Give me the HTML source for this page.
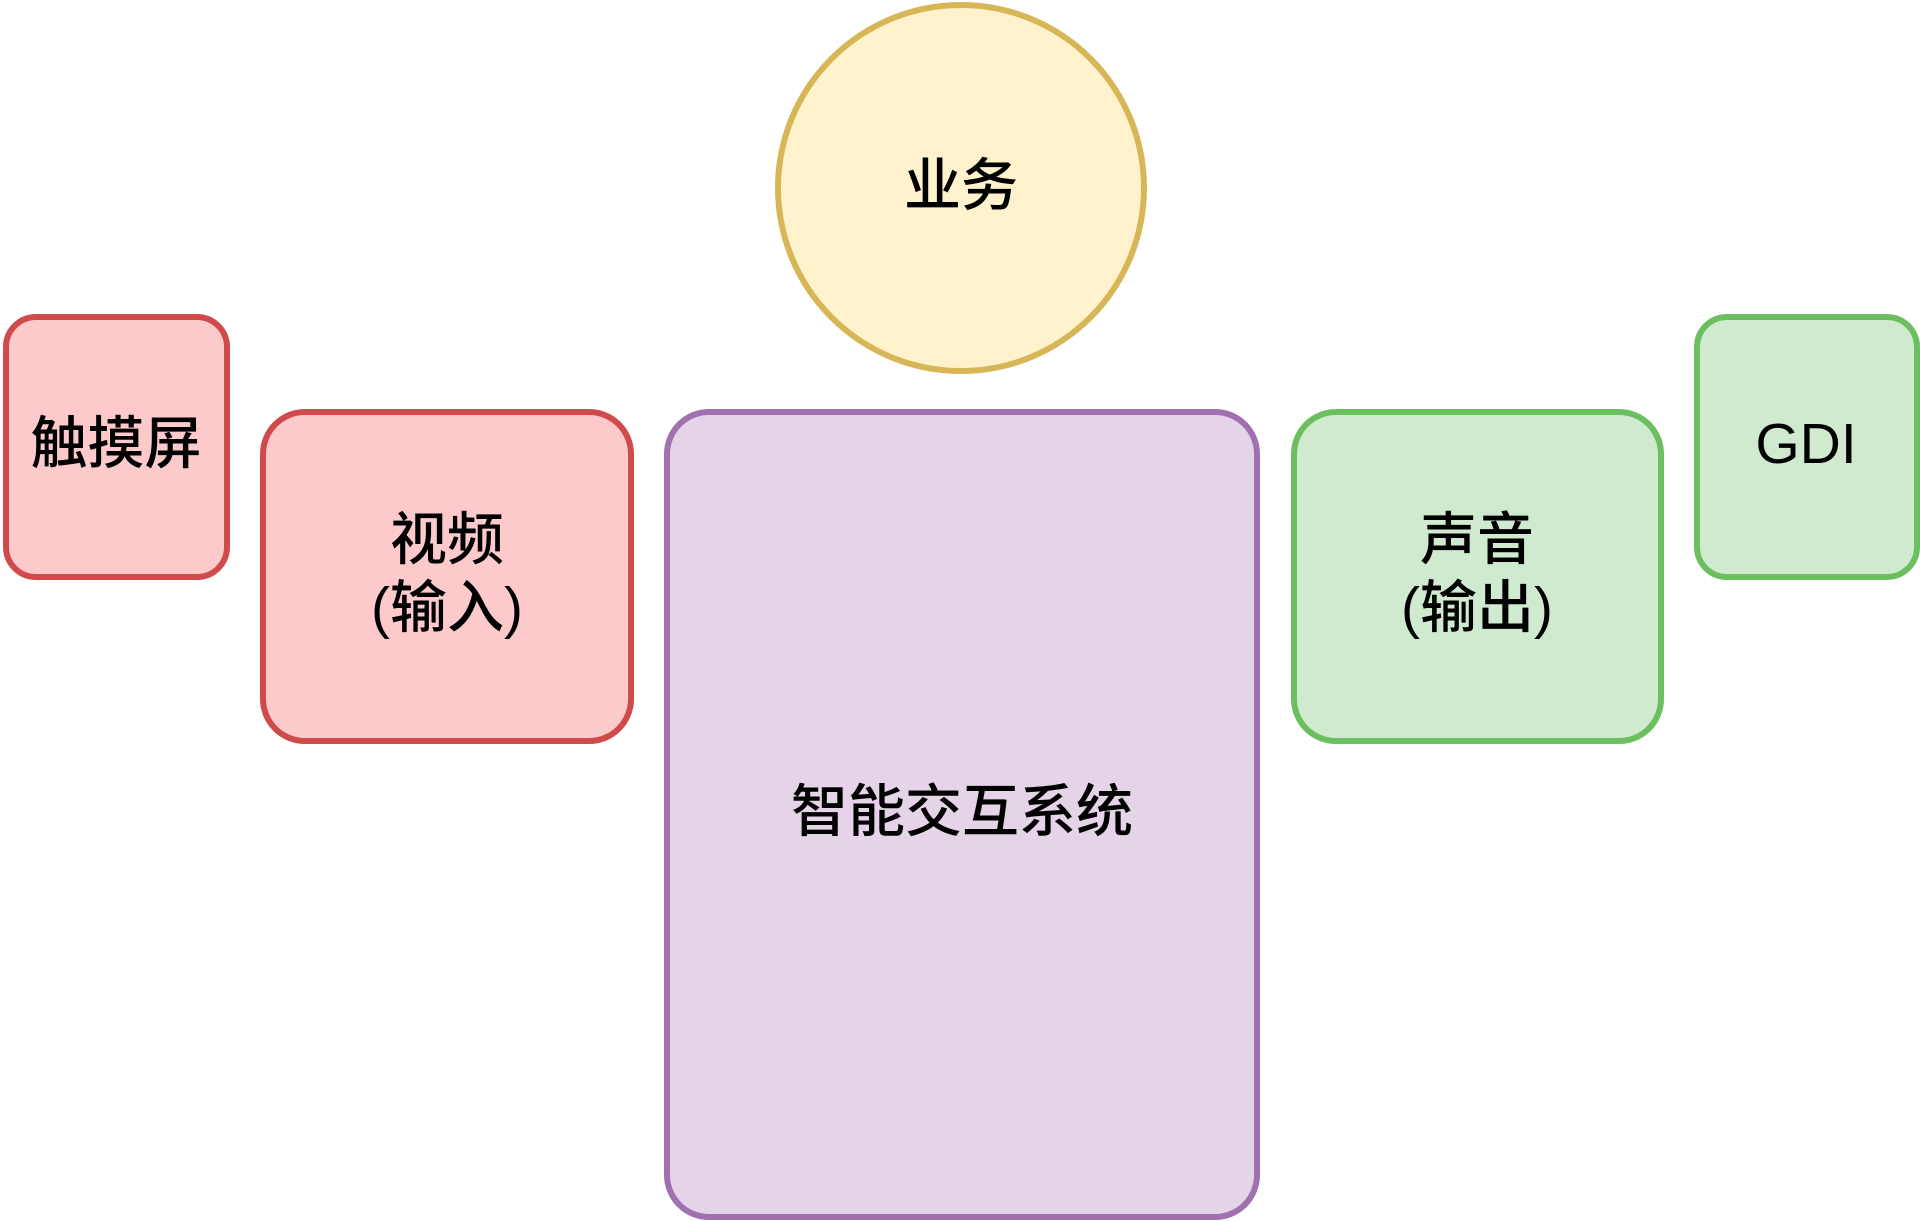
<!DOCTYPE html>
<html><head><meta charset="utf-8"><style>
html,body{margin:0;padding:0;background:#fff;}
svg{display:block;}
text{font-family:"Liberation Sans","Noto Sans CJK SC",sans-serif;font-size:57px;font-weight:500;fill:#000;text-anchor:middle;dominant-baseline:central;}
</style></head><body>
<svg width="1920" height="1221" viewBox="0 0 1920 1221" xmlns="http://www.w3.org/2000/svg">
<circle cx="961" cy="188" r="183" fill="#fff2cc" stroke="#d6b656" stroke-width="6"/>
<text x="961" y="186">业务</text>
<rect x="6" y="317" width="221" height="260" rx="30" fill="#fccaca" stroke="#cf4b4b" stroke-width="6"/>
<text x="116" y="444">触摸屏</text>
<rect x="263" y="412" width="368" height="329" rx="42" fill="#fccaca" stroke="#cf4b4b" stroke-width="6"/>
<text x="447" y="540">视频</text>
<text x="447" y="608">(输入)</text>
<rect x="667" y="412" width="590" height="805" rx="42" fill="#e5d3e7" stroke="#a070b0" stroke-width="6"/>
<text x="962" y="812">智能交互系统</text>
<rect x="1294" y="412" width="367" height="329" rx="42" fill="#d0ead0" stroke="#6cbf5e" stroke-width="6"/>
<text x="1477" y="540">声音</text>
<text x="1477" y="608">(输出)</text>
<rect x="1697" y="317" width="220" height="260" rx="30" fill="#d0ead0" stroke="#6cbf5e" stroke-width="6"/>
<text x="1806" y="444">GDI</text>
</svg>
</body></html>
